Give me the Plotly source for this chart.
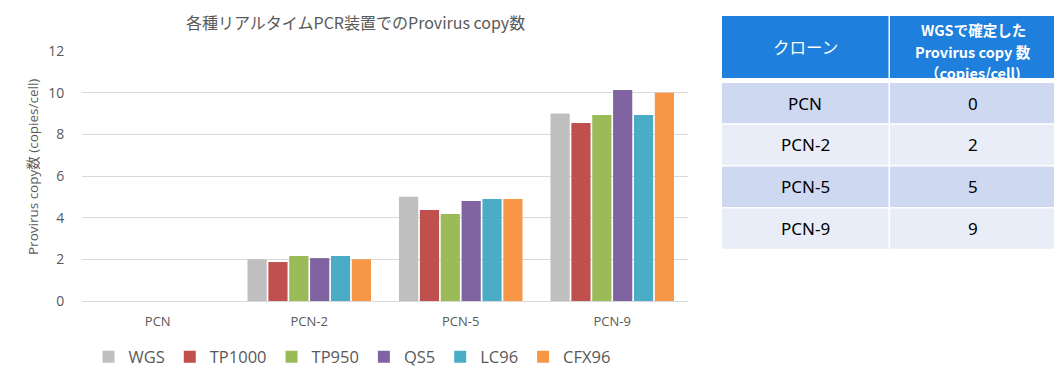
import plotly.graph_objects as go

# ---------------- data ----------------
categories = ["PCN", "PCN-2", "PCN-5", "PCN-9"]
series_names = ["WGS", "TP1000", "TP950", "QS5", "LC96", "CFX96"]
wgs = [0, 2.0, 5.0, 9.0]
tp1000 = [0, 1.87, 4.37, 8.55]
tp950 = [0, 2.16, 4.18, 8.93]
qs5 = [0, 2.06, 4.80, 10.13]
lc96 = [0, 2.16, 4.90, 8.93]
cfx96 = [0, 2.0, 4.90, 10.0]
series_values = [wgs, tp1000, tp950, qs5, lc96, cfx96]
colors = ["#BFBFBF", "#C0504D", "#9BBB59", "#8064A2", "#4BACC6", "#F79646"]
y_ticks = [0, 2, 4, 6, 8, 10, 12]

chart_title = "各種リアルタイムPCR装置でのProvirus copy数"
y_title = "Provirus copy数 (copies/cell)"

table_header_1 = "クローン"
table_header_2 = ["WGSで確定した", "Provirus copy 数", "（copies/cell)"]
table_clones = ["PCN", "PCN-2", "PCN-5", "PCN-9"]
table_copies = [0, 2, 5, 9]

# ---------------- layout helpers ----------------
OFF = 8  # page body margin
W, H = 1062 - OFF, 380 - OFF


def px(x):
    return (x - OFF) / W


def py(y):
    return 1 - (y - OFF) / H


GREY = "#595959"

fig = go.Figure()
for name, vals, col in zip(series_names, series_values, colors):
    fig.add_trace(go.Bar(x=categories, y=vals, name=name, marker_color=col,
                         marker_line_width=0))

annotations = [
    dict(text=chart_title, x=px(355), y=1, xref="paper", yref="paper",
         showarrow=False, xanchor="center", yanchor="top",
         font=dict(family="Noto Sans CJK JP", size=16, color=GREY)),
    dict(text=y_title, x=px(33), y=py(167), xref="paper", yref="paper",
         showarrow=False, xanchor="center", yanchor="middle", textangle=-90,
         font=dict(family="Open Sans, Noto Sans CJK JP", size=13.5, color=GREY)),
]

shapes = []
# table geometry
col_x = [(722, 888.5), (890, 1056)]
header_y = (16, 78)
row_top0 = 83
row_step = 41.8
row_h = 40.3
header_fill = "#1E80DC"
row_fills = ["#CED8F1", "#E9EDF7"]

for (x0, x1) in col_x:
    shapes.append(dict(type="rect", xref="paper", yref="paper",
                       x0=px(x0), x1=px(x1), y0=py(header_y[1]), y1=py(header_y[0]),
                       fillcolor=header_fill, line=dict(width=0), layer="below"))

annotations.append(dict(text=table_header_1, x=px((col_x[0][0] + col_x[0][1]) / 2),
                        y=py(47), xref="paper", yref="paper", showarrow=False,
                        xanchor="center", yanchor="middle",
                        font=dict(family="Noto Sans CJK JP", size=16.5, color="white")))
for i, line in enumerate(table_header_2):
    annotations.append(dict(text="<b>" + line + "</b>",
                            x=px((col_x[1][0] + col_x[1][1]) / 2),
                            y=py(30 + 21 * i), xref="paper", yref="paper",
                            showarrow=False, xanchor="center", yanchor="middle",
                            font=dict(family="Noto Sans CJK JP", size=14.5, color="white")))

for r, (clone, copies) in enumerate(zip(table_clones, table_copies)):
    top = row_top0 + r * row_step
    bot = top + row_h
    for (x0, x1) in col_x:
        shapes.append(dict(type="rect", xref="paper", yref="paper",
                           x0=px(x0), x1=px(x1), y0=py(bot), y1=py(top),
                           fillcolor=row_fills[r % 2], line=dict(width=0), layer="below"))
    cy = (top + bot) / 2
    for c, txt in enumerate([clone, str(copies)]):
        annotations.append(dict(text=txt, x=px((col_x[c][0] + col_x[c][1]) / 2),
                                y=py(cy), xref="paper", yref="paper", showarrow=False,
                                xanchor="center", yanchor="middle",
                                font=dict(family="Noto Sans", size=17, color="black")))

fig.update_layout(
    width=W, height=H,
    margin=dict(l=0, r=0, t=0, b=0, pad=0, autoexpand=False),
    paper_bgcolor="white", plot_bgcolor="white",
    barmode="group", bargap=0.174, bargroupgap=0.08,
    showlegend=True,
    legend=dict(orientation="h", x=px(352), xanchor="center", y=py(357), yanchor="middle",
                font=dict(family="Open Sans", size=16.5, color=GREY),
                bgcolor="rgba(0,0,0,0)", traceorder="normal"),
    xaxis=dict(domain=[px(82), px(688)], showgrid=False, zeroline=False, showline=False,
               automargin=False,
               ticks="outside", ticklen=8, tickcolor="rgba(0,0,0,0)",
               tickfont=dict(family="Open Sans", size=13, color=GREY)),
    yaxis=dict(domain=[py(301), py(51)], range=[0, 12], tickvals=y_ticks,
               automargin=False,
               showgrid=True, gridcolor="#D9D9D9", gridwidth=1,
               zeroline=True, zerolinecolor="#D9D9D9", zerolinewidth=1, showline=False,
               ticks="outside", ticklen=14, tickcolor="rgba(0,0,0,0)",
               tickfont=dict(family="Open Sans", size=14, color=GREY)),
    annotations=annotations,
    shapes=shapes,
)

fig.write_html("out.html")
